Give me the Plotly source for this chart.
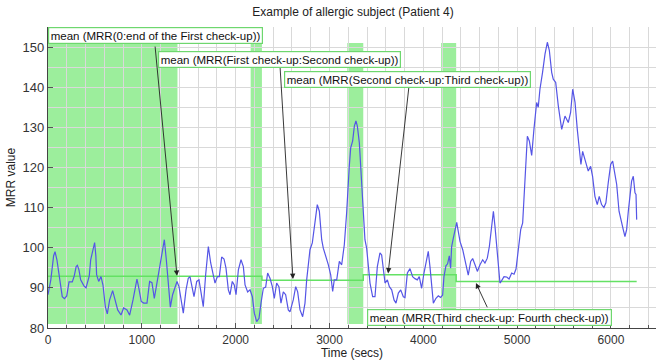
import plotly.graph_objects as go

# ---------------- data ----------------
time_s = [0, 30, 60, 75, 95, 117, 152, 175, 200, 224, 259, 280, 300, 313, 330, 348, 383, 405, 420, 440,
          455, 483, 497, 510, 518, 540, 565, 586, 611, 632, 657, 689, 718, 743, 778, 806, 842, 870, 906, 930,
          948, 966, 994, 1020, 1055, 1083, 1108, 1133, 1169, 1197, 1226, 1240, 1261, 1286, 1304, 1328, 1375,
          1396, 1425, 1442, 1471, 1495, 1513, 1538, 1556, 1585, 1609, 1630, 1655, 1680, 1709, 1734, 1755,
          1780, 1805, 1826, 1851, 1876, 1897, 1922, 1940, 1964, 1985, 2004, 2029, 2057, 2082, 2100, 2128,
          2153, 2178, 2199, 2224, 2249, 2270, 2295, 2320, 2341, 2366, 2391, 2412, 2437, 2462, 2483, 2508,
          2533, 2561, 2579, 2614, 2640, 2661, 2686, 2714, 2739, 2757, 2774, 2792, 2817, 2846, 2870, 2892,
          2917, 2934, 2963, 2988, 3013, 3034, 3051, 3077, 3105, 3130, 3158, 3183, 3211, 3226, 3247, 3265,
          3282, 3297, 3318, 3336, 3361, 3378, 3396, 3414, 3432, 3460, 3485, 3510, 3538, 3556, 3574, 3592,
          3617, 3638, 3663, 3688, 3709, 3734, 3759, 3787, 3805, 3830, 3858, 3886, 3911, 3936, 3957, 3982,
          4007, 4036, 4053, 4071, 4089, 4107, 4135, 4160, 4185, 4206, 4220, 4241, 4259, 4277, 4291, 4302,
          4320, 4338, 4356, 4373, 4391, 4420, 4437, 4455, 4479, 4505, 4526, 4551, 4576, 4604, 4633, 4657,
          4682, 4704, 4729, 4747, 4764, 4782, 4800, 4817, 4835, 4860, 4889, 4914, 4942, 4967, 4988, 5012,
          5038, 5059, 5084, 5109, 5130, 5155, 5179, 5208, 5225, 5243, 5271, 5297, 5322, 5343, 5368, 5385,
          5411, 5439, 5475, 5510, 5545, 5570, 5592, 5617, 5641, 5662, 5680, 5698, 5723, 5740, 5758, 5783,
          5804, 5829, 5854, 5875, 5900, 5925, 5946, 5971, 5997, 6018, 6036, 6061, 6086, 6107, 6131, 6149,
          6167, 6185, 6203, 6220, 6238, 6256, 6267, 6274]
mrr = [88.3, 92, 98, 99, 97, 93, 87.8, 87.3, 88, 91.5, 91.5, 93, 95.3, 95.6, 94.5, 92, 90.5, 90, 91.6, 93,
       97, 100.5, 101.3, 98, 93.3, 91.6, 92.8, 90.7, 85.3, 83.5, 87, 89.3, 86.6, 84.5, 83.25, 85, 84.5, 83.2, 87, 90,
       92.2, 90.2, 86.6, 86.2, 86.2, 91.6, 91.3, 87.4, 92.4, 96.6, 100.8, 102, 97, 91.2, 85.2, 88.3, 91.6,
       90.3, 85.3, 83.7, 89.5, 92.4, 92.8, 89.5, 87.8, 91.6, 92, 89, 85.3, 93.2, 100.3, 96.2, 93.7,
       91.2, 92.8, 92.8, 97.7, 97.2, 94.9, 89.5, 88.3, 91.6, 90.75, 88.3, 94.5, 97, 95.3, 90.75, 89,
       89.5, 87.8, 83.7, 81.6, 82.4, 86.2, 89.9, 90.2, 93.7, 92.4, 90.3, 87.4, 91.2, 90.2, 86.2, 89,
       88.3, 84.5, 84, 87, 90.3, 89, 84.5, 82.8, 86.2, 92, 96.2, 99.5, 101.2, 107, 110.75, 109.1,
       102, 99.9, 97.8, 95.75, 93.25, 89.1, 92, 92, 96.6, 95.75, 100.75, 108.7, 120.3, 124.9, 126.6, 130.3,
       131.6, 130.3, 126.2, 118.7, 108.7, 102, 99.9, 95.3, 91.2, 87.8, 87.8, 95.3, 98.7, 98.2, 93.7, 91.2,
       92, 90.3, 89.5, 87, 86.2, 88.7, 89.5, 87.8, 87.6, 93.7, 94.8, 92.8, 92.3, 92, 92.8, 89.9,
       93.7, 97.4, 99.1, 95.3, 89.5, 86.2, 87.4, 88, 87.6, 88.2, 92.8, 95.5, 96, 98, 94.9, 100.3,
       102.4, 104.5, 106.3, 104, 101.6, 99.5, 97.4, 95.2, 93.2, 96.6, 97.3, 95.75, 94.1, 95.75, 97, 96.2,
       97.4, 100.3, 105.3, 109.1, 105.3, 100.3, 95.3, 91.2, 91.8, 92.8, 92.7, 92.2, 93.7, 93.4, 94.7, 100.3,
       104.5, 106.2, 117.8, 127.8, 126.6, 123, 129.5, 136.2, 135, 139.5, 143.7, 148.25, 151.2, 149.2, 143.7, 142,
       141.2, 135.3, 129.5, 132.8, 131.2, 133.7, 139.5, 136.2, 129.5, 124.1, 120.75, 124, 122, 121.2, 119.1, 120.3,
       117.8, 112.8, 110.75, 112.8, 110.75, 110, 111.2, 116.2, 120.75, 121.6, 119.5, 115.75, 109.1, 106.6, 104.5, 102.8,
       104.5, 109.1, 113.7, 116.6, 117.8, 113.7, 113.3, 107]

# mean levels (step line)
mean_t = [0, 2280, 3360, 4350, 6274]
mean_v = [92.9, 91.9, 93.25, 91.6, 91.6]

# check-up shaded windows
band_start = [0, 2160, 3190, 4190]
band_end = [1380, 2280, 3360, 4350]
band_low = 81
band_high = 151

# annotation texts, box anchors (top-left), arrow tails and heads
ann_text = ["mean (MRR(0:end of the First check-up))",
            "mean (MRR(First check-up:Second check-up))",
            "mean (MRR(Second check-up:Third check-up))",
            "mean (MRR(Third check-up: Fourth check-up))"]
ann_box_x = [0, 1172, 2515, 3400]
ann_box_y = [154.95, 149.0, 144.0, 84.8]
arrow_tail_x = [1140, 2473, 3847, 4689]
arrow_tail_y = [150.5, 145.2, 140.2, 84.8]
arrow_head_x = [1375, 2611, 3625, 4561]
arrow_head_y = [93.0, 92.2, 93.6, 91.2]

FONT = "Liberation Sans, Arial, sans-serif"

fig = go.Figure()

for s, e in zip(band_start, band_end):
    fig.add_shape(type="rect", xref="x", yref="y", x0=s, x1=e, y0=band_low, y1=band_high,
                  fillcolor="rgba(95,228,95,0.62)", line=dict(width=0), layer="below")

fig.add_trace(go.Scatter(x=mean_t, y=mean_v, mode="lines", line_shape="hv",
                         line=dict(color="rgb(100,225,100)", width=1.5), showlegend=False,
                         hoverinfo="skip"))

fig.add_trace(go.Scatter(x=time_s, y=mrr, mode="lines",
                         line=dict(color="rgb(85,85,230)", width=1.2), showlegend=False))

for i in range(len(ann_text)):
    # arrow only
    fig.add_annotation(x=arrow_head_x[i], y=arrow_head_y[i], ax=arrow_tail_x[i], ay=arrow_tail_y[i],
                       xref="x", yref="y", axref="x", ayref="y", text="", showarrow=True,
                       arrowhead=2, arrowsize=1.2, arrowwidth=0.9, arrowcolor="#222222")
    # text box
    fig.add_annotation(x=ann_box_x[i], y=ann_box_y[i], xref="x", yref="y", text=ann_text[i],
                       showarrow=False, xanchor="left", yanchor="top",
                       font=dict(family=FONT, size=11.5, color="#111111"),
                       bgcolor="white", bordercolor="rgb(110,215,110)", borderwidth=1.2, borderpad=1.5)

fig.update_layout(
    width=656, height=360,
    margin=dict(l=48, r=0, t=27, b=32),
    paper_bgcolor="white", plot_bgcolor="white",
    font=dict(family=FONT, size=12, color="#333333"),
    title=dict(text="Example of allergic subject (Patient 4)", xref="container", yref="container",
               x=0.538, y=0.967, xanchor="center", yanchor="middle",
               font=dict(family=FONT, size=12, color="#222222")),
)
fig.update_xaxes(range=[0, 6480], tickvals=[0, 1000, 2000, 3000, 4000, 5000, 6000],
                 showgrid=True, gridcolor="#d9d9d9", gridwidth=1,
                 minor=dict(dtick=200, showgrid=True, gridcolor="#d9d9d9", gridwidth=1,
                            ticks="inside", ticklen=3, tickcolor="#555555"),
                 ticks="inside", ticklen=5, tickcolor="#555555",
                 showline=True, linecolor="#444444", linewidth=1.2, zeroline=False,
                 title=dict(text="Time (secs)", standoff=0, font=dict(size=12, color="#222222")),
                 tickfont=dict(size=12, color="#333333"))
fig.update_yaxes(range=[80, 155], tickvals=[80, 90, 100, 110, 120, 130, 140, 150],
                 showgrid=True, gridcolor="#d9d9d9", gridwidth=1,
                 minor=dict(dtick=5, showgrid=True, gridcolor="#d9d9d9", gridwidth=1),
                 ticks="inside", ticklen=5, tickcolor="#555555",
                 showline=True, linecolor="#444444", linewidth=1.2, zeroline=False,
                 title=dict(text="MRR value", standoff=4, font=dict(size=12, color="#222222")),
                 tickfont=dict(size=13, color="#333333"))

fig.write_html("out.html")
